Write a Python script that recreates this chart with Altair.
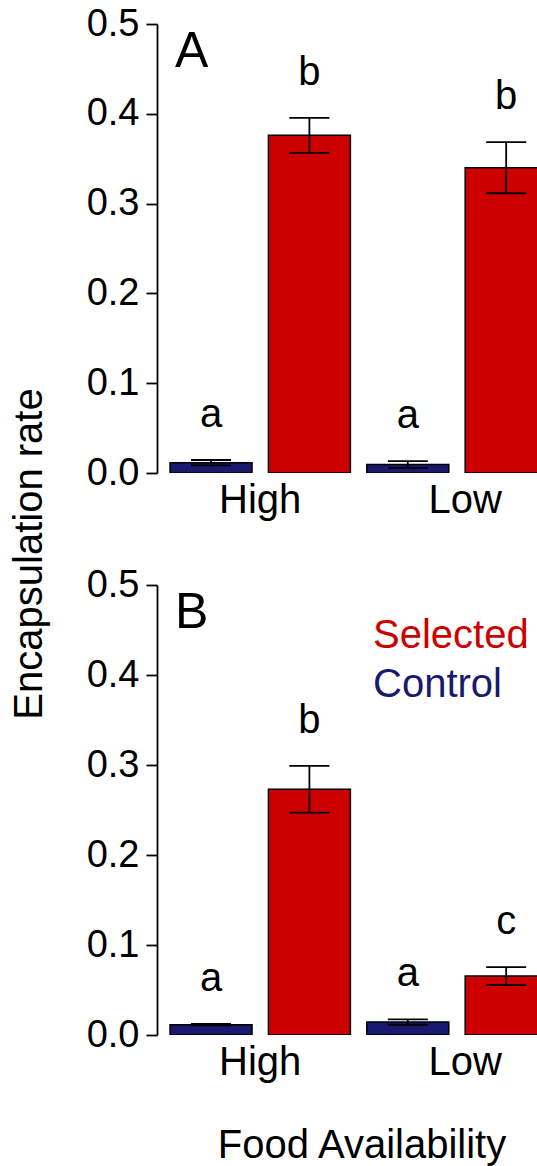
import altair as alt
import pandas as pd

# ---------------- data ----------------
GROUPS = ["High", "Low"]
TREATMENTS = ["Control", "Selected"]
COLORS = ["#191970", "#CD0000"]

A_MEAN_CONTROL = [0.0115, 0.0095]
A_MEAN_SELECTED = [0.376, 0.340]
A_SE_CONTROL = [0.003, 0.0037]
A_SE_SELECTED = [0.0195, 0.0285]
A_LET_CONTROL = ["a", "a"]
A_LET_SELECTED = ["b", "b"]

B_MEAN_CONTROL = [0.0115, 0.0144]
B_MEAN_SELECTED = [0.273, 0.0655]
B_SE_CONTROL = [0.0008, 0.003]
B_SE_SELECTED = [0.026, 0.010]
B_LET_CONTROL = ["a", "a"]
B_LET_SELECTED = ["b", "c"]

Y_TICKS = [0.0, 0.1, 0.2, 0.3, 0.4, 0.5]
PANEL_LABELS = ["A", "B"]
X_TITLE = "Food Availability"
Y_TITLE = "Encapsulation rate"

# ---------------- layout ----------------
FONT = "Liberation Sans"
FS_TICK = 38
FS = 40
W = 380
H_TOP = 449
H_BOT = 450
BAR_W = 1.0
SPACE = 0.2
XDOM = [0.041, 4.676]
LABEL_AT = [1.3, 3.8]
CAP_HALF = 0.244
LETTER_GAP = 0.037


def build(mc, ms, sc, ss, lc, ls):
    rows = []
    for g, grp in enumerate(GROUPS):
        for t, tr in enumerate(TREATMENTS):
            mean = [mc, ms][t][g]
            se = [sc, ss][t][g]
            let = [lc, ls][t][g]
            i = g * 2 + t
            x0 = SPACE + i * (BAR_W + SPACE)
            xc = x0 + BAR_W / 2
            rows.append(dict(group=grp, treatment=tr, x0=x0, x1=x0 + BAR_W, xc=xc,
                             cl=xc - CAP_HALF, cr=xc + CAP_HALF, base=0.0,
                             mean=mean, lo=mean - se, hi=mean + se,
                             letter=let, ly=mean + se + LETTER_GAP))
    return pd.DataFrame(rows)


xs = alt.Scale(domain=XDOM, nice=False, zero=False)
ys = alt.Scale(domain=[0, 0.5], nice=False, zero=True)
YAXIS = alt.Axis(values=Y_TICKS, format=".1f", title=None, grid=False, tickSize=11,
                 tickWidth=1.8, domainWidth=1.8, domainColor="black", tickColor="black",
                 labelFont=FONT, labelFontSize=FS_TICK, labelColor="black", labelPadding=7)
color = alt.Color("treatment:N", scale=alt.Scale(domain=TREATMENTS, range=COLORS), legend=None)


def X(f):
    return alt.X(f, scale=xs, axis=None)


def Y(f):
    return alt.Y(f, scale=ys, axis=YAXIS)


def panel(df, H, label, extras):
    base = alt.Chart(df)
    bars = base.mark_bar(stroke="black", strokeWidth=1.5, clip=True).encode(
        x=X("x0:Q"), x2="x1:Q", y=Y("mean:Q"), y2="base:Q", color=color)
    err = base.mark_rule(color="black", strokeWidth=1.8, clip=True).encode(
        x=X("xc:Q"), y=Y("lo:Q"), y2="hi:Q")
    cap_hi = base.mark_rule(color="black", strokeWidth=1.8, clip=True).encode(
        x=X("cl:Q"), x2="cr:Q", y=Y("hi:Q"))
    cap_lo = base.mark_rule(color="black", strokeWidth=1.8, clip=True).encode(
        x=X("cl:Q"), x2="cr:Q", y=Y("lo:Q"))
    letters = base.mark_text(font=FONT, fontSize=FS, baseline="alphabetic", align="center",
                             color="black").encode(x=X("xc:Q"), y=Y("ly:Q"), text="letter:N")
    gl = alt.Chart(pd.DataFrame({"group": GROUPS, "at": LABEL_AT})).mark_text(
        font=FONT, fontSize=FS, baseline="alphabetic", align="center", color="black"
    ).encode(x=X("at:Q"), y=alt.value(H + 40), text="group:N")
    pl = alt.Chart(pd.DataFrame({"t": [label]})).mark_text(
        font=FONT, fontSize=50, baseline="alphabetic", align="left", color="black"
    ).encode(x=alt.value(18), y=alt.value(43), text="t:N")
    return alt.layer(bars, err, cap_hi, cap_lo, letters, gl, pl, *extras).properties(
        width=W, height=H)


dfA = build(A_MEAN_CONTROL, A_MEAN_SELECTED, A_SE_CONTROL, A_SE_SELECTED, A_LET_CONTROL, A_LET_SELECTED)
dfB = build(B_MEAN_CONTROL, B_MEAN_SELECTED, B_SE_CONTROL, B_SE_SELECTED, B_LET_CONTROL, B_LET_SELECTED)

one = pd.DataFrame({"t": [""]})
spacer = alt.Chart(one).mark_rect(opacity=0).encode(
    x=alt.value(-157), x2=alt.value(-156), y=alt.value(-24), y2=alt.value(-23))
ytitle = alt.Chart(pd.DataFrame({"t": [Y_TITLE]})).mark_text(
    font=FONT, fontSize=FS, angle=270, align="center", baseline="alphabetic", color="black"
).encode(x=alt.value(-115), y=alt.value(530), text="t:N")

leg = []
for name, ypix in zip(TREATMENTS[::-1], [63, 112]):
    leg.append(alt.Chart(pd.DataFrame({"t": [name]})).mark_text(
        font=FONT, fontSize=FS, align="left", baseline="alphabetic",
        color=COLORS[TREATMENTS.index(name)]
    ).encode(x=alt.value(216), y=alt.value(ypix), text="t:N"))
xtitle = alt.Chart(pd.DataFrame({"t": [X_TITLE]})).mark_text(
    font=FONT, fontSize=FS, align="center", baseline="alphabetic", color="black"
).encode(x=alt.value(205), y=alt.value(573), text="t:N")

top = panel(dfA, H_TOP, PANEL_LABELS[0], [spacer, ytitle])
bot = panel(dfB, H_BOT, PANEL_LABELS[1], leg + [xtitle])

chart = alt.vconcat(top, bot, spacing=112, bounds="flush").configure_view(
    stroke=None).properties(padding=0, background="white")

chart.save("out.html", embed_options={"renderer": "svg", "actions": False})
